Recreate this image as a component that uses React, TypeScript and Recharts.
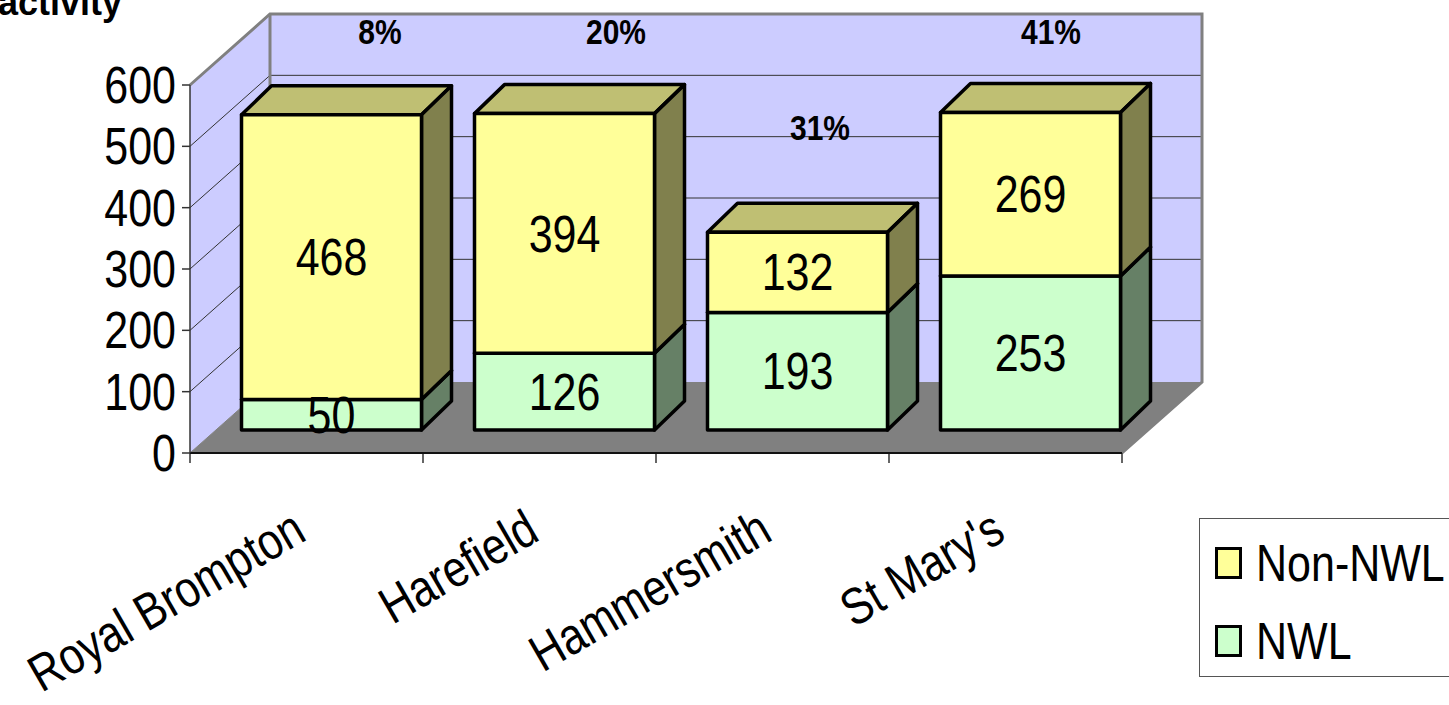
import React from "react";
import {
    BarChart,
    Bar,
    XAxis,
    YAxis,
    Legend,
    LabelList,
    usePlotArea,
} from "recharts";

const categories = ["Royal Brompton", "Harefield", "Hammersmith", "St Mary's"];
const nwl = [50, 126, 193, 253];
const nonNwl = [468, 394, 132, 269];
const shares = ["8%", "20%", "31%", "41%"];
const yTicks = [0, 100, 200, 300, 400, 500, 600];

const data = categories.map((name, i) => ({ name, nwl: nwl[i], nonNwl: nonNwl[i] }));

// 3D look: wall depth, and where the bars sit inside it
const WALL_DX = 80;
const WALL_DY = -71;
const BAR_SHIFT_X = 24.5;
const BAR_SHIFT_Y = -23;
const BAR_DEPTH_X = 30;
const BAR_DEPTH_Y = -29;
const BAR_SCALE = 0.992;
const FLOOR_Y = 453;

const shareX = [380, 616, 820, 1051];
const shareY = [32, 32, 128, 32];

const FONT = '"Liberation Sans", Arial, sans-serif';
const FONT_SIZE = 43;
// the original text is taller than it is wide
const STRETCH = 1.2;

const shades: Record<string, { top: string; side: string }> = {
    "#ffff99": { top: "#bfbf73", side: "#80804d" },
    "#ccffcc": { top: "#99bf99", side: "#668066" },
};

const project = (y: number) => FLOOR_Y + (y - FLOOR_Y) * BAR_SCALE + BAR_SHIFT_Y;

const Box = (props: any) => {
    const { x, y, width, height, fill } = props;
    const left = x + BAR_SHIFT_X;
    const right = left + width;
    const top = project(y);
    const bottom = project(y + height);
    const dx = BAR_DEPTH_X;
    const dy = BAR_DEPTH_Y;
    const shade = shades[fill];
    return (
        <g stroke="#000" strokeWidth={3.5} strokeLinejoin="round">
            <polygon
                points={`${left},${top} ${left + dx},${top + dy} ${right + dx},${top + dy} ${right},${top}`}
                fill={shade.top}
            />
            <polygon
                points={`${right},${top} ${right + dx},${top + dy} ${right + dx},${bottom + dy} ${right},${bottom}`}
                fill={shade.side}
            />
            <rect x={left} y={top} width={width} height={bottom - top} fill={fill} />
        </g>
    );
};

const BoxLabel = (props: any) => {
    const { x, y, width, height, value } = props;
    const cy = (project(y) + project(y + height)) / 2;
    return (
        <text
            transform={`translate(${x + BAR_SHIFT_X + width / 2} ${cy}) scale(1 ${STRETCH})`}
            dy="0.35em"
            textAnchor="middle"
            fontFamily={FONT}
            fontSize={FONT_SIZE}
            fill="#000"
        >
            {value}
        </text>
    );
};

// back walls, floor and the grid lines behind the bars
const Walls = () => {
    const plot = usePlotArea();
    if (!plot) return null;
    const { x, y, width, height } = plot;
    const bottom = y + height;
    const right = x + width;
    const dx = WALL_DX;
    const dy = WALL_DY;
    const toY = (v: number) => bottom - (v / 600) * height;
    return (
        <g>
            <polygon
                points={`${x},${y} ${x + dx},${y + dy} ${right + dx},${y + dy} ${right + dx},${bottom + dy} ${x + dx},${bottom + dy} ${x},${bottom}`}
                fill="#ccccff"
            />
            <polygon
                points={`${x},${bottom} ${x + dx},${bottom + dy} ${right + dx},${bottom + dy} ${right},${bottom}`}
                fill="#808080"
            />
            {yTicks.slice(1, -1).map((v) => (
                <polyline
                    key={v}
                    points={`${x},${toY(v)} ${x + dx},${toY(v) + dy} ${right + dx},${toY(v) + dy}`}
                    fill="none"
                    stroke="#333"
                    strokeWidth={1}
                />
            ))}
            <polyline
                points={`${x},${y} ${x + dx},${y + dy} ${right + dx},${y + dy} ${right + dx},${bottom + dy} ${right},${bottom}`}
                fill="none"
                stroke="#808080"
                strokeWidth={3}
            />
            <line x1={x + dx} y1={y + dy} x2={x + dx} y2={bottom + dy} stroke="#808080" strokeWidth={3} />
            <line x1={x} y1={bottom} x2={x + dx} y2={bottom + dy} stroke="#808080" strokeWidth={1} />
        </g>
    );
};

// marks between the categories, and the text that floats over the chart
const Overlay = () => {
    const plot = usePlotArea();
    if (!plot) return null;
    const { x, y, width, height } = plot;
    const bottom = y + height;
    return (
        <g>
            {categories.concat("").map((_, i) => {
                const tx = x + (width / categories.length) * i;
                return <line key={i} x1={tx} y1={bottom} x2={tx} y2={bottom + 10} stroke="#333" strokeWidth={1.5} />;
            })}
            {shares.map((s, i) => (
                <text
                    key={s}
                    transform={`translate(${shareX[i]} ${shareY[i]}) scale(1 1.15)`}
                    dy="0.35em"
                    textAnchor="middle"
                    fontFamily={FONT}
                    fontWeight="bold"
                    fontSize={30}
                    fill="#000"
                >
                    {s}
                </text>
            ))}
            <text
                transform="translate(122 15) scale(1 1.05)"
                textAnchor="end"
                fontFamily={FONT}
                fontWeight="bold"
                fontSize={36}
                fill="#000"
            >
                activity
            </text>
        </g>
    );
};

const CategoryTick = (props: any) => {
    const { x, y, payload } = props;
    return (
        <text
            transform={`translate(${x + 2} ${y + 78}) rotate(-30) scale(1 ${STRETCH})`}
            textAnchor="end"
            fontFamily={FONT}
            fontSize={FONT_SIZE}
            fill="#000"
        >
            {payload.value}
        </text>
    );
};

const ValueTick = (props: any) => {
    const { x, y, payload } = props;
    return (
        <text
            transform={`translate(${x} ${y}) scale(1 ${STRETCH})`}
            dy="0.35em"
            textAnchor="end"
            fontFamily={FONT}
            fontSize={FONT_SIZE}
            fill="#000"
        >
            {payload.value}
        </text>
    );
};

const LegendBox = ({ payload }: any) => (
    <div
        style={{
            boxSizing: "border-box",
            width: 260,
            height: 159,
            border: "1px solid #555",
            background: "#fff",
            fontFamily: FONT,
            fontSize: FONT_SIZE,
            color: "#000",
            position: "relative",
        }}
    >
        {[...(payload || [])].reverse().map((item: any, i: number) => (
            <div key={item.value} style={{ position: "absolute", left: 0, top: 28 + i * 78, height: 34, whiteSpace: "nowrap" }}>
                <span
                    style={{
                        position: "absolute",
                        left: 15,
                        top: 0,
                        boxSizing: "border-box",
                        width: 27,
                        height: 32,
                        border: "3px solid #000",
                        background: item.color,
                    }}
                />
                <span
                    style={{
                        position: "absolute",
                        left: 56,
                        top: -14,
                        lineHeight: "60px",
                        transform: `scaleY(${STRETCH})`,
                    }}
                >
                    {item.value}
                </span>
            </div>
        ))}
    </div>
);

export default function App() {
    return (
        <div style={{ position: "absolute", left: 0, top: 0, width: 1449, height: 705, overflow: "hidden" }}>
            <BarChart
                width={1449}
                height={705}
                data={data}
                margin={{ top: 85, right: 327, bottom: 0, left: 0 }}
                barSize={180}
                style={{ fontFamily: FONT }}
            >
                <Walls />
                <XAxis
                    dataKey="name"
                    height={252}
                    interval={0}
                    tick={<CategoryTick />}
                    tickLine={false}
                    axisLine={{ stroke: "#111", strokeWidth: 2 }}
                />
                <YAxis
                    type="number"
                    domain={[0, 600]}
                    ticks={yTicks}
                    interval={0}
                    width={190}
                    tickSize={8}
                    tickMargin={6}
                    tick={<ValueTick />}
                    tickLine={{ stroke: "#333", strokeWidth: 1.5 }}
                    axisLine={{ stroke: "#333", strokeWidth: 1.5 }}
                />
                <Legend
                    layout="vertical"
                    align="center"
                    verticalAlign="middle"
                    wrapperStyle={{ left: 1199, top: 518, width: 260, height: 159 }}
                    content={<LegendBox />}
                />
                <Bar dataKey="nwl" name="NWL" stackId="a" fill="#ccffcc" shape={<Box />} isAnimationActive={false}>
                    <LabelList dataKey="nwl" content={<BoxLabel />} />
                </Bar>
                <Bar dataKey="nonNwl" name="Non-NWL" stackId="a" fill="#ffff99" shape={<Box />} isAnimationActive={false}>
                    <LabelList dataKey="nonNwl" content={<BoxLabel />} />
                </Bar>
                <Overlay />
            </BarChart>
        </div>
    );
}
